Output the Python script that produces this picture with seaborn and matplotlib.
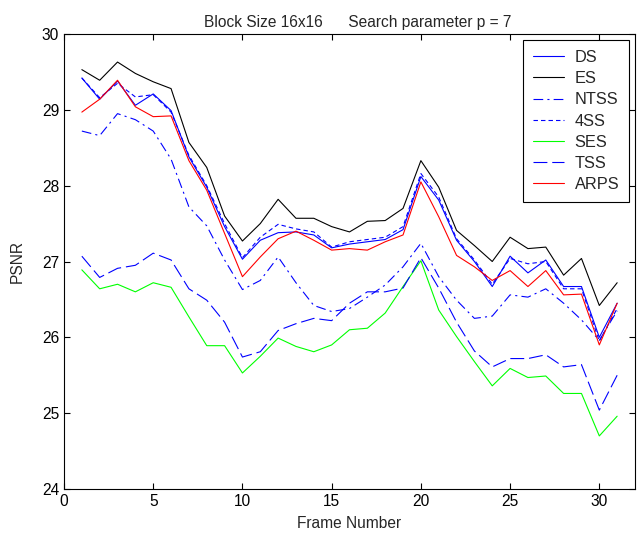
import numpy as np
import pandas as pd
import matplotlib
matplotlib.use("Agg")
import matplotlib.pyplot as plt
import seaborn as sns

frames = list(range(1, 32))

ds = [29.42, 29.14, 29.38, 29.06, 29.21, 28.99, 28.38, 27.98, 27.46, 27.03,
      27.28, 27.38, 27.39, 27.35, 27.18, 27.23, 27.26, 27.29, 27.42, 28.12,
      27.81, 27.28, 27.00, 26.67, 27.07, 26.85, 27.02, 26.67, 26.67, 26.00, 26.45]
es = [29.53, 29.39, 29.63, 29.48, 29.37, 29.28, 28.57, 28.24, 27.60, 27.27,
      27.50, 27.82, 27.57, 27.57, 27.46, 27.39, 27.53, 27.54, 27.70, 28.33,
      27.98, 27.41, 27.21, 27.00, 27.32, 27.17, 27.19, 26.82, 27.04, 26.42, 26.72]
ntss = [28.72, 28.66, 28.95, 28.87, 28.72, 28.35, 27.72, 27.47, 27.02, 26.63,
        26.75, 27.06, 26.72, 26.42, 26.34, 26.38, 26.53, 26.69, 26.93, 27.24,
        26.80, 26.49, 26.25, 26.28, 26.56, 26.53, 26.64, 26.45, 26.23, 25.96, 26.35]
fss = [29.42, 29.16, 29.35, 29.17, 29.20, 28.97, 28.40, 28.00, 27.50, 27.05,
       27.32, 27.49, 27.43, 27.39, 27.19, 27.26, 27.29, 27.32, 27.46, 28.16,
       27.85, 27.30, 27.02, 26.70, 27.04, 26.97, 27.00, 26.64, 26.64, 25.95, 26.38]
ses = [26.89, 26.64, 26.70, 26.60, 26.72, 26.66, 26.27, 25.89, 25.89, 25.53,
       25.75, 25.99, 25.88, 25.81, 25.90, 26.10, 26.12, 26.32, 26.67, 27.01,
       26.36, 26.01, 25.68, 25.36, 25.59, 25.47, 25.49, 25.26, 25.26, 24.70, 24.96]
tss = [27.07, 26.79, 26.91, 26.95, 27.11, 27.02, 26.64, 26.49, 26.20, 25.74,
       25.81, 26.09, 26.18, 26.25, 26.22, 26.45, 26.60, 26.60, 26.65, 27.05,
       26.65, 26.20, 25.82, 25.61, 25.72, 25.72, 25.77, 25.61, 25.64, 25.04, 25.50]
arps = [28.97, 29.14, 29.39, 29.04, 28.91, 28.92, 28.33, 27.94, 27.37, 26.80,
        27.06, 27.30, 27.40, 27.28, 27.15, 27.17, 27.15, 27.26, 27.35, 28.05,
        27.59, 27.08, 26.93, 26.75, 26.88, 26.67, 26.88, 26.56, 26.57, 25.90, 26.45]

methods = ["DS", "ES", "NTSS", "4SS", "SES", "TSS", "ARPS"]
series = [ds, es, ntss, fss, ses, tss, arps]

x_ticks = [0, 5, 10, 15, 20, 25, 30]
y_ticks = [24, 25, 26, 27, 28, 29, 30]

df = pd.DataFrame({
    "Frame": np.tile(frames, len(methods)),
    "PSNR": np.concatenate(series),
    "Method": np.repeat(methods, len(frames)),
})

sns.set_style("white")
plt.rcParams["font.family"] = ["Liberation Sans", "DejaVu Sans"]
plt.rcParams["lines.scale_dashes"] = False

palette = {"DS": "#0000ff", "ES": "#000000", "NTSS": "#0000ff", "4SS": "#0000ff",
           "SES": "#00ff00", "TSS": "#0000ff", "ARPS": "#ff0000"}
dash_map = {"DS": "", "ES": "", "NTSS": (7, 3, 1.5, 3), "4SS": (3.2, 2.2),
            "SES": "", "TSS": (10, 3.5), "ARPS": ""}

FS = 11.2

fig = plt.figure(figsize=(6.37, 5.33), dpi=100)
ax = fig.add_axes([64 / 637, 1 - 489 / 533, (635 - 64) / 637, (489 - 34) / 533])

sns.lineplot(data=df, x="Frame", y="PSNR", hue="Method", style="Method",
             hue_order=methods, style_order=methods, palette=palette,
             dashes=dash_map, linewidth=0.8, ax=ax, legend=True)

ax.set_xlim(0, 32)
ax.set_ylim(24, 30)
ax.set_xticks(x_ticks)
ax.set_yticks(y_ticks)
ax.tick_params(direction="in", length=4, width=0.8, colors="black",
               labelsize=FS, top=True, right=True, bottom=True, left=True)
for s in ax.spines.values():
    s.set_color("black")
    s.set_linewidth(0.8)
    s.set_visible(True)

ax.set_xlabel("Frame Number", fontsize=FS, labelpad=5)
ax.set_ylabel("PSNR", fontsize=FS, labelpad=12)
ax.set_title("Block Size 16x16      Search parameter p = 7", fontsize=FS,
             pad=5, x=0.515)

handles, labels = ax.get_legend_handles_labels()
leg = ax.legend(handles, labels, loc="upper right", fontsize=11.8,
                frameon=True, fancybox=False, edgecolor="black",
                framealpha=1, handlelength=1.85, handletextpad=0.67,
                borderpad=0.6, labelspacing=0.38, borderaxespad=0,
                bbox_to_anchor=(1 - 6 / 571, 1 - 6 / 455))
leg.get_frame().set_linewidth(0.8)

fig.savefig("out.png", dpi=100)
